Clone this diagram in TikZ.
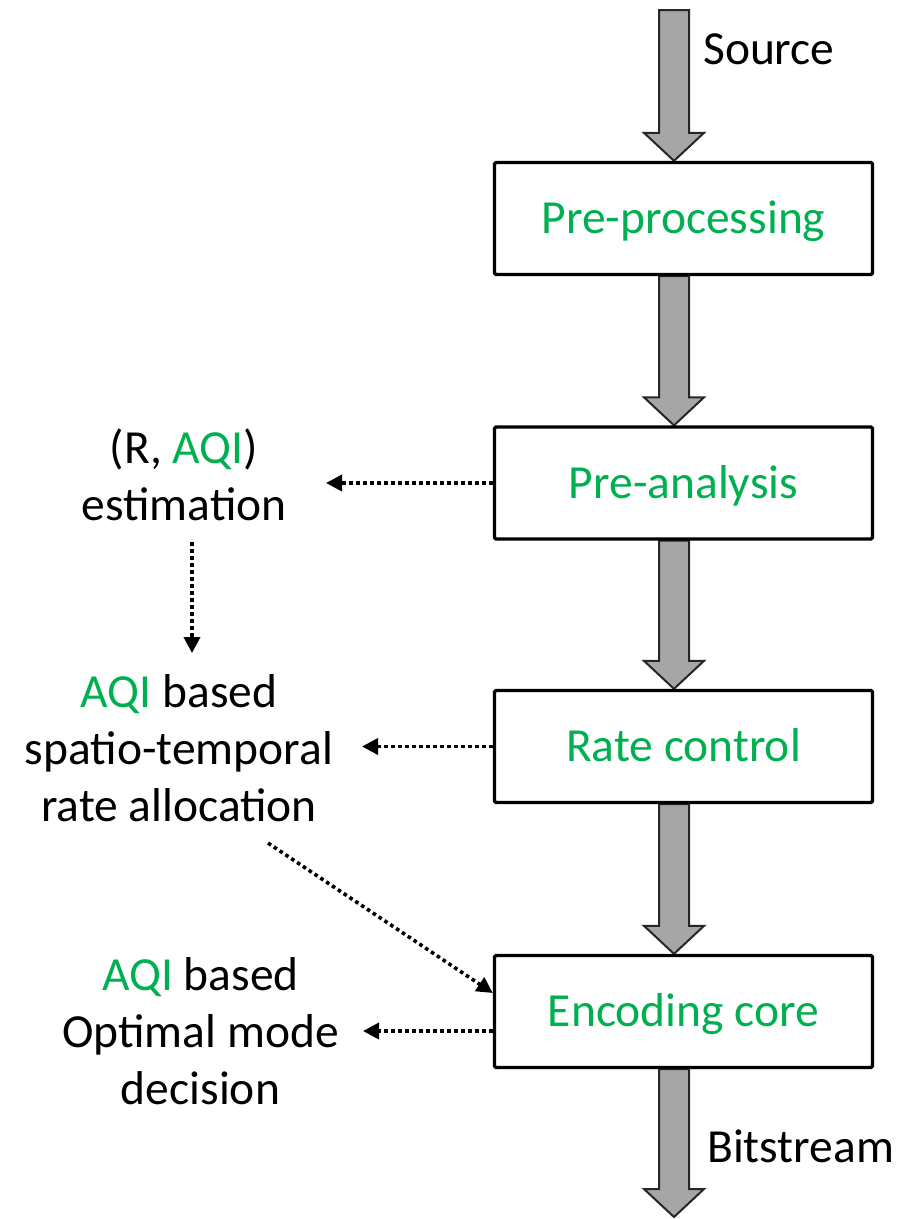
\documentclass[tikz,border=0pt]{standalone}
\usepackage{fontspec}
\setmainfont{Carlito}
\usetikzlibrary{arrows.meta,backgrounds}
\definecolor{aqigreen}{HTML}{00B050}
\definecolor{shaftgray}{HTML}{A6A6A6}

\begin{document}
\begin{tikzpicture}[x=1pt,y=-1pt,
  every node/.style={font=\fontsize{47.5}{57}\selectfont, inner sep=0pt},
  stage/.style={draw, line width=3.3pt, fill=white, rounded corners=1.5pt,
    minimum width=378pt, minimum height=112pt, text=aqigreen,
    text height=30.6pt, text depth=0pt},
  note/.style={align=center, anchor=base},
  flow/.style={draw=black!85, line width=2pt, fill=shaftgray,
    to path={([xshift=-24.5pt]\tikztostart) -- ([xshift=-24.5pt,yshift=28pt]\tikztotarget)
      -- ([xshift=-39.5pt,yshift=28pt]\tikztotarget) -- ([xshift=-9.5pt]\tikztotarget)
      -- ([xshift=20.5pt,yshift=28pt]\tikztotarget) -- ([xshift=5.5pt,yshift=28pt]\tikztotarget)
      -- ([xshift=5.5pt]\tikztostart) -- cycle}},
  hint/.style={line width=3.6pt, dash pattern=on 3.6pt off 3.4pt,
    -{Triangle[length=16pt,width=16pt]}},
]
\useasboundingbox (0,0) rectangle (909,1219);

% processing chain
\node[stage] (pp) at (683.5,218.5) {Pre-processing};
\node[stage] (pa) at (683.5,483) {Pre-analysis};
\node[stage] (rc) at (683.5,746.5) {Rate control};
\node[stage] (ec) at (683.5,1011.5) {Encoding core};

\coordinate (src) at (683.5,10);
\coordinate (out) at (683.5,1217);

\node[anchor=base west] (srcText) at (703,64) {Source};
\node[anchor=base west] (outText) at (707,1162) {Bitstream};

% side tools (anchored at the baseline of the last line)
\node[note] (est) at (184,520) {(R, \textcolor{aqigreen}{AQI})\\estimation};
\node[note] (alloc) at (179,821) {\textcolor{aqigreen}{AQI} based\\spatio-temporal\\rate allocation};
\node[note] (mode) at (200.5,1104) {\textcolor{aqigreen}{AQI} based\\Optimal mode\\decision};

% main data flow
\begin{scope}[on background layer]
  \draw[flow] (src) to (pp.north);
  \draw[flow] (pp.south) to (pa.north);
  \draw[flow] (pa.south) to (rc.north);
  \draw[flow] (rc.south) to (ec.north);
  \draw[flow] (ec.south) to (out);
\end{scope}

% dotted control links
\coordinate (paTip) at (326,483);
\coordinate (estDown) at (192,542);
\coordinate (estTip) at (192,653);
\coordinate (rcTip) at (362,746.5);
\coordinate (allocOut) at (268,843);
\coordinate (ecIn) at ([yshift=18.5pt]ec.west);
\coordinate (ecOut) at ([yshift=-19.5pt]ec.west);
\coordinate (ecTip) at (363,1031);

\draw[hint] (pa.west) -- (paTip);
\draw[hint] (estDown) -- (estTip);
\draw[hint] (rc.west) -- (rcTip);
\draw[hint] (allocOut) -- (ecIn);
\draw[hint] (ecOut) -- (ecTip);
\end{tikzpicture}
\end{document}
